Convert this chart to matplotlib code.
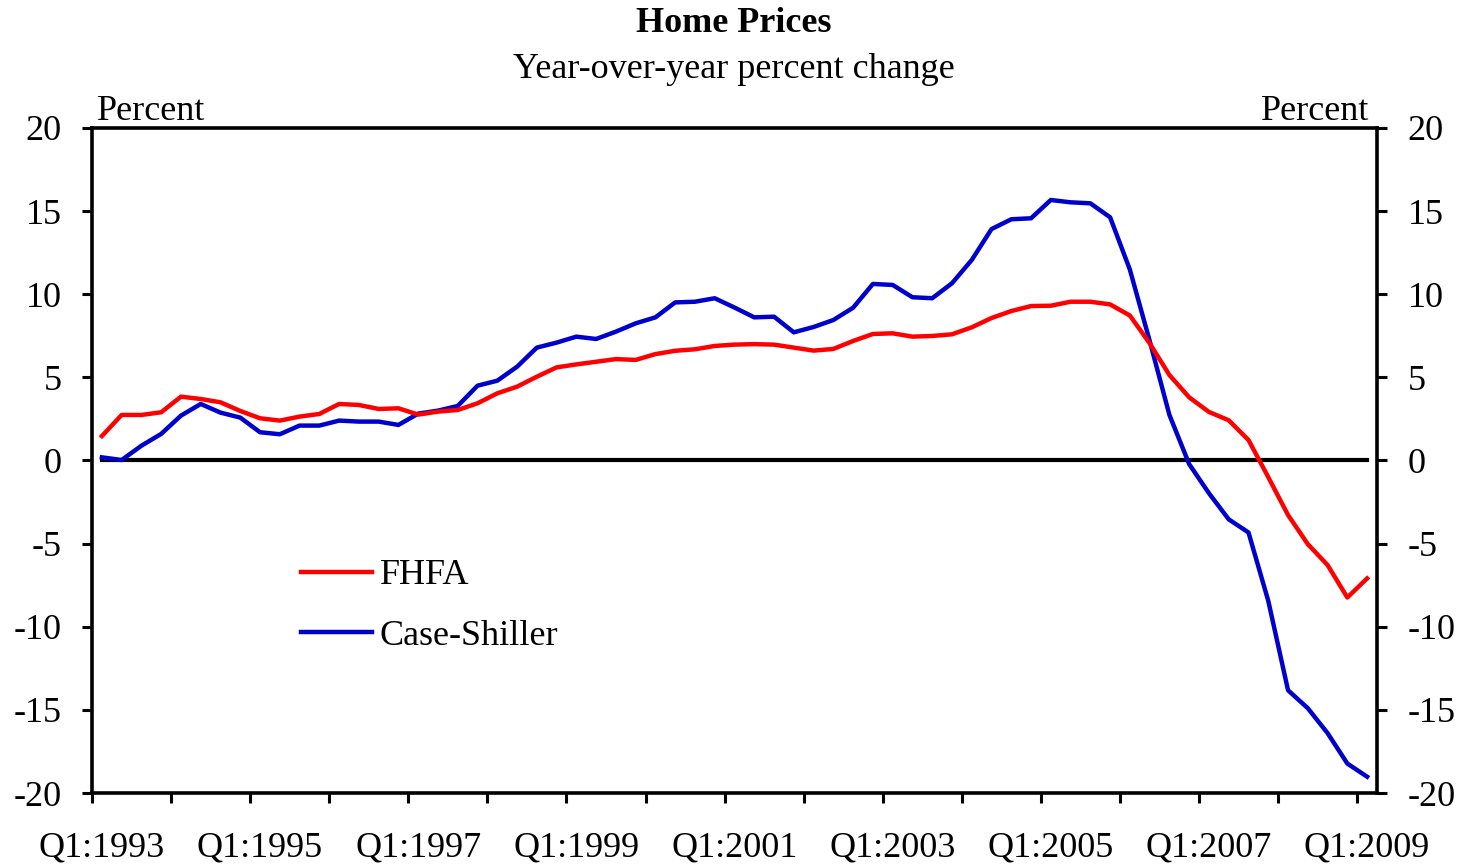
import numpy as np
import matplotlib
matplotlib.use('Agg')
import matplotlib.pyplot as plt

plt.rcParams['font.family'] = ['Liberation Serif', 'DejaVu Serif']
plt.rcParams['axes.unicode_minus'] = False

# quarterly, Q1:1993 .. Q1:2009
first_year = 1993
fhfa = [1.47, 2.74, 2.74, 2.9, 3.84, 3.7, 3.5, 2.98, 2.54, 2.4, 2.64, 2.8, 3.4, 3.34, 3.1, 3.14,
        2.76, 2.94, 3.04, 3.44, 4.04, 4.44, 5.04, 5.6, 5.78, 5.94, 6.1, 6.05, 6.4, 6.6, 6.69, 6.89,
        6.97, 7.0, 6.97, 6.79, 6.61, 6.71, 7.19, 7.61, 7.65, 7.45, 7.49, 7.59, 8.01, 8.57, 8.99, 9.29,
        9.31, 9.55, 9.55, 9.39, 8.72, 7.05, 5.14, 3.8, 2.92, 2.42, 1.23, -1.0, -3.28, -5.03, -6.29, -8.24,
        -7.09]
case_shiller = [0.19, 0.03, 0.89, 1.6, 2.7, 3.4, 2.88, 2.58, 1.7, 1.58, 2.1, 2.1, 2.4, 2.34, 2.34, 2.14,
                2.82, 3.0, 3.28, 4.5, 4.8, 5.64, 6.79, 7.09, 7.45, 7.31, 7.75, 8.25, 8.61, 9.51, 9.55, 9.76,
                9.2, 8.61, 8.65, 7.71, 8.03, 8.45, 9.19, 10.62, 10.56, 9.82, 9.76, 10.66, 12.06, 13.92, 14.51, 14.57,
                15.67, 15.53, 15.47, 14.63, 11.48, 7.2, 2.74, -0.22, -1.97, -3.54, -4.33, -8.44, -13.82, -14.9, -16.4, -18.23,
                -19.02]
yticks = [-20, -15, -10, -5, 0, 5, 10, 15, 20]

n = len(fhfa)
x = np.arange(n) + 0.5
tick_pos = np.arange(0, n, 4)          # yearly tick marks
lab_pos = np.arange(0, n, 8) + 0.5     # labels sit on the Q1 point
lab_txt = ['Q1:%d' % (first_year + i // 4) for i in np.arange(0, n, 8)]

fs = 26
fig = plt.figure(figsize=(14.63, 8.67), dpi=100)
ax = fig.add_axes([92 / 1463, 1 - 793 / 867, 1285 / 1463, 665 / 867])

ax.plot(x, np.zeros(n), color='black', lw=3, zorder=1)
ax.plot(x, fhfa, color='#FF0000', lw=3.2, label='FHFA', zorder=3)
ax.plot(x, case_shiller, color='#0000CC', lw=3.2, label='Case-Shiller', zorder=2)

ax.set_xlim(0, n)
ax.set_ylim(-20, 20)
ax.set_yticks(yticks)
ax.set_xticks(tick_pos)
ax.set_xticklabels([])
ax.set_xticks(lab_pos, minor=True)
ax.set_xticklabels(lab_txt, minor=True)
for s in ax.spines.values():
    s.set_linewidth(2.6)
ax.tick_params(axis='both', direction='out', length=7, width=2.2, labelsize=fs)
ax.tick_params(axis='x', which='minor', length=0, labelsize=fs, pad=28)
ax.tick_params(axis='y', left=True, right=True, labelleft=True, labelright=True, pad=15)

ax.text(0.004, 1.0, 'Percent', transform=ax.transAxes, ha='left', va='bottom', fontsize=fs)
ax.text(0.994, 1.0, 'Percent', transform=ax.transAxes, ha='right', va='bottom', fontsize=fs)

fig.text(734 / 1463, 1 - 24 / 867, 'Home Prices', ha='center', va='center', fontsize=fs, fontweight='bold')
fig.text(734 / 1463, 1 - 69 / 867, 'Year-over-year percent change', ha='center', va='center', fontsize=fs)

ax.legend(loc='upper left', bbox_to_anchor=(0.163, 0.352), frameon=False, fontsize=fs,
          handlelength=1.95, handletextpad=0.22, labelspacing=0.75, borderpad=0, borderaxespad=0)

plt.savefig('out.png', dpi=100)
